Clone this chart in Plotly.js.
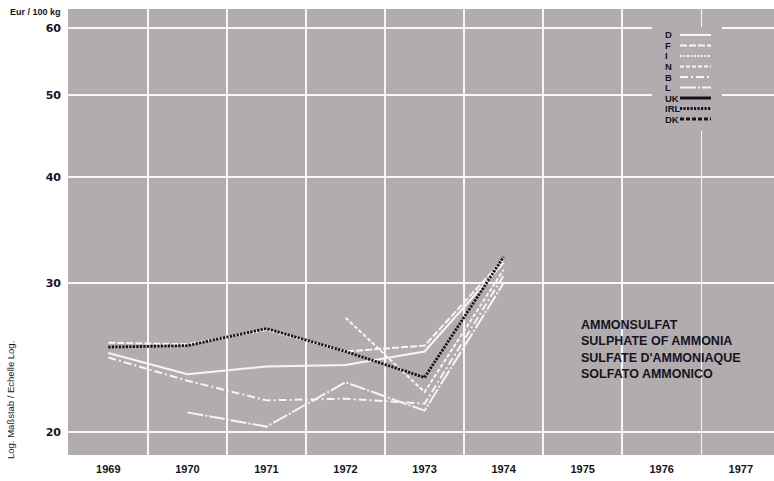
<!DOCTYPE html>
<html><head><meta charset="utf-8">
<script src="https://cdn.plot.ly/plotly-3.0.1.min.js"></script>
<style>html,body{margin:0;padding:0;background:#fff}#chart{width:774px;height:481px}</style>
</head><body><div id="chart"></div>
<script>
// ---- data (Eur / 100 kg, log scale) ----
const years = [1969, 1970, 1971, 1972, 1973, 1974];
const D   = [24.8, 23.4, 23.9, 24.0, 24.9, 31.7];
const F   = [25.5, 25.4, 26.4, 24.9, 25.3, 32.0];
const I   = [null, null, null, null, null, null];
const N   = [null, null, null, 27.3, 22.3, 31.1];
const B   = [24.5, 23.0, 21.8, 21.9, 21.6, 30.6];
const L   = [null, 21.1, 20.3, 22.9, 21.2, 30.0];
const UK  = [null, null, null, null, null, null];
const IRL = [25.2, 25.3, 26.5, 24.9, 23.2, 32.2];
const DK  = [null, null, null, null, null, null];

const countries = ['D', 'F', 'I', 'N', 'B', 'L', 'UK', 'IRL', 'DK'];
const seriesValues = [D, F, I, N, B, L, UK, IRL, DK];
const xTickLabels = ['1969','1970','1971','1972','1973','1974','1975','1976','1977'];
const xTickVals = [1969,1970,1971,1972,1973,1974,1975,1976,1977];
const yTickVals = [20, 30, 40, 50, 60];
const titleLines = ['AMMONSULFAT', 'SULPHATE OF AMMONIA', "SULFATE D'AMMONIAQUE", 'SOLFATO AMMONICO'];

// ---- styles ----
const WHITE = '#f6f5f6', DARK = '#14141e', BG = '#b2acaf';
const styles = {
  D:   {color: WHITE, width: 2,   dash: 'solid'},
  F:   {color: WHITE, width: 2,   dash: '7px,2px'},
  I:   {color: WHITE, width: 2,   dash: '2px,1.5px'},
  N:   {color: WHITE, width: 2,   dash: '4px,2px'},
  B:   {color: WHITE, width: 2,   dash: '8px,3px,2px,3px'},
  L:   {color: WHITE, width: 2,   dash: '16px,2px,2px,2px'},
  UK:  {color: DARK,  width: 3,   dash: 'solid'},
  IRL: {color: DARK,  width: 2.8, dash: '2.2px,1.3px'},
  DK:  {color: DARK,  width: 3,   dash: '4px,2px'}
};

const W = 774, H = 481, ML = 68, MR = 0, MT = 9, MB = 26;
const PW = W - ML - MR, PH = H - MT - MB;
const px = x => (x - ML) / PW;
const py = y => (H - MB - y) / PH;

const traces = countries.map((c, i) => ({
  type: 'scatter', mode: 'lines', x: years, y: seriesValues[i],
  line: {color: styles[c].color, width: styles[c].width, dash: styles[c].dash},
  connectgaps: false, showlegend: false, hoverinfo: 'skip', name: c
}));
const order = ['L','B','N','I','D','F','UK','DK','IRL'];
const data = order.map(c => traces[countries.indexOf(c)]);

const textFont = 'Liberation Sans, Arial, sans-serif';
const shapes = [{
  type: 'rect', xref: 'paper', yref: 'paper', layer: 'above',
  x0: px(652), x1: px(722), y0: py(131), y1: py(27),
  fillcolor: BG, line: {width: 0}
}];
const annotations = [];
countries.forEach((c, i) => {
  const yy = 35 + i * 10.5;
  shapes.push({type: 'line', xref: 'paper', yref: 'paper', layer: 'above',
    x0: px(680), x1: px(711), y0: py(yy), y1: py(yy),
    line: {color: styles[c].color, width: styles[c].width, dash: styles[c].dash}});
  annotations.push({xref: 'paper', yref: 'paper', x: px(663), y: py(yy), xanchor: 'left', yanchor: 'middle',
    text: c, showarrow: false, font: {family: textFont, size: 9.5, weight: 700, color: DARK}});
});
titleLines.forEach((t, i) => {
  annotations.push({xref: 'paper', yref: 'paper', x: px(579), y: py(325 + i * 16.4), xanchor: 'left', yanchor: 'middle',
    text: t, showarrow: false, font: {family: textFont, size: 12.5, weight: 700, color: DARK}});
});
annotations.push({xref: 'paper', yref: 'paper', x: px(63), y: py(12), xanchor: 'right', yanchor: 'middle',
  text: 'Eur / 100 kg', showarrow: false, font: {family: textFont, size: 9, weight: 700, color: DARK}});
annotations.push({xref: 'paper', yref: 'paper', x: px(10), y: py(400), xanchor: 'center', yanchor: 'middle',
  textangle: -90, text: 'Log. Maßstab / Echelle Log.', showarrow: false,
  font: {family: textFont, size: 9.5, color: DARK}});

const halfYears = xTickVals.slice(0, -1).map(v => v + 0.5);

const layout = {
  width: W, height: H,
  margin: {l: ML, r: MR, t: MT, b: MB, pad: 0},
  paper_bgcolor: '#ffffff', plot_bgcolor: BG,
  showlegend: false,
  xaxis: {
    range: [1968.49, 1977.42], tickvals: xTickVals, ticktext: xTickLabels,
    showgrid: false, zeroline: false, showline: false, ticks: '',
    ticklabelstandoff: 6,
    tickfont: {family: 'Liberation Sans Narrow, Liberation Sans, Arial', size: 11, weight: 700, color: DARK},
    minor: {tickvals: halfYears, showgrid: true, gridcolor: 'rgba(255,255,255,0.9)', gridwidth: 1.5, ticks: ''}
  },
  yaxis: {
    type: 'log', range: [Math.log10(18.79), Math.log10(63.2)],
    tickvals: yTickVals, ticktext: yTickVals.map(String),
    showgrid: true, gridcolor: 'rgba(255,255,255,0.9)', gridwidth: 1.5,
    zeroline: false, showline: false, ticks: '', ticklabelstandoff: 6,
    tickfont: {family: 'DejaVu Sans, Arial', size: 11, weight: 700, color: DARK}
  },
  shapes: shapes, annotations: annotations
};
Plotly.newPlot('chart', data, layout, {staticPlot: true, displayModeBar: false});
</script>
</body></html>
